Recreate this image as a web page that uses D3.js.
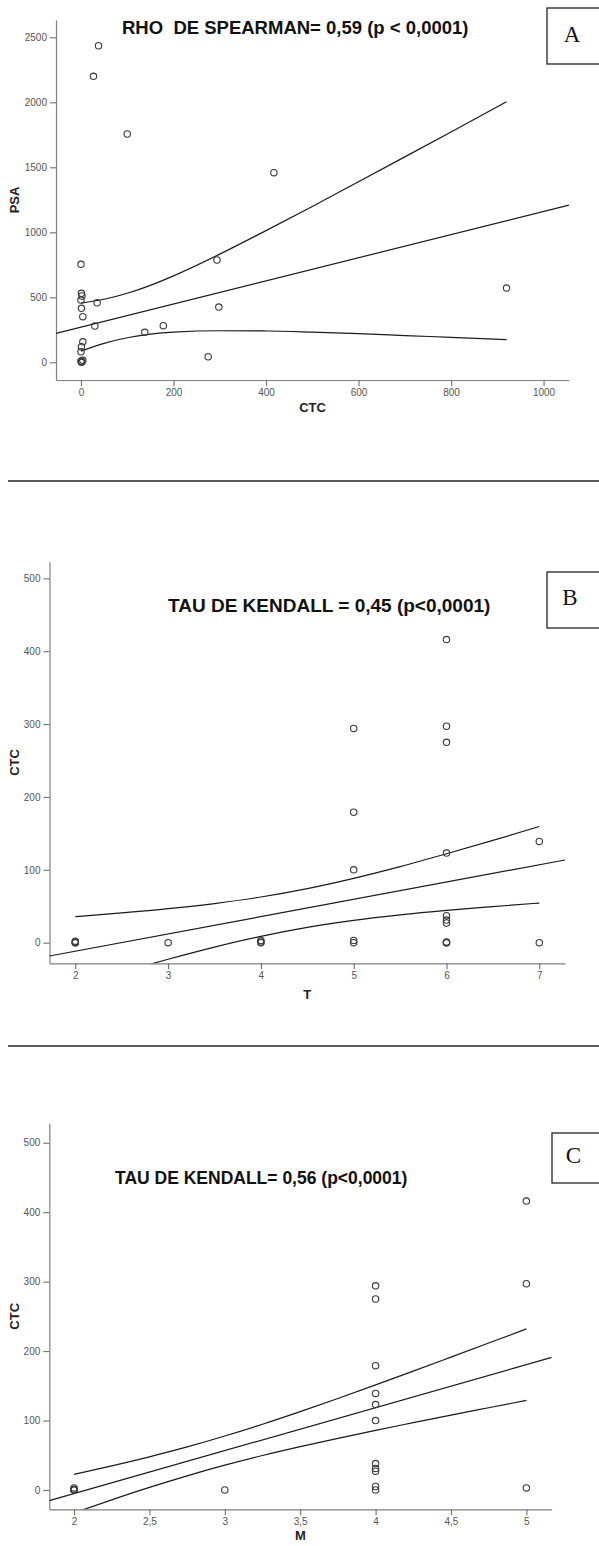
<!DOCTYPE html>
<html>
<head>
<meta charset="utf-8">
<script src="https://cdn.jsdelivr.net/npm/d3@7"></script>
<style>
  html, body { margin: 0; padding: 0; background: #fff; }
  svg { display: block; }
</style>
</head>
<body>
<svg id="chart" width="599" height="1546"></svg>
<script>
// ---------- Panel A: CTC vs PSA ----------
const ctcA = [38, 27, 100, 417, 0, 1, 2, 0, 1, 4, 35, 30, 138, 178, 294, 298, 275, 4, 1, 0, 0, 2, 4, 1, 920];
const psaA = [2435, 2200, 1756, 1459, 754, 531, 510, 479, 415, 351, 458, 279, 231, 282, 787, 425, 43, 158, 120, 81, 10, 5, 15, 0, 571];
const fitA_x = [-54, 1055];
const fitA_y = [223, 1209];
const bandA_x  = [0, 50, 100, 150, 200, 300, 400, 500, 600, 700, 800, 920];
const bandA_up = [456, 485, 531, 592, 665, 832, 1013, 1199, 1389, 1580, 1772, 2004];
const bandA_lo = [86, 146, 189, 217, 233, 243, 241, 232, 220, 206, 192, 174];
const ticksA_x = [0, 200, 400, 600, 800, 1000];
const ticksA_y = [0, 500, 1000, 1500, 2000, 2500];

// ---------- Panel B: T vs CTC ----------
const tB   = [2, 2, 2, 2, 3, 4, 4, 4, 5, 5, 5, 5, 5, 6, 6, 6, 6, 6, 6, 6, 6, 6, 6, 7, 7];
const ctcB = [0, 0, 1, 2, 0, 0, 1, 3, 294, 179, 100, 0, 3, 416, 297, 275, 123, 37, 31, 27, 0, 0, 1, 139, 0];
const fitB_x = [1.722, 7.277];
const fitB_y = [-18.3, 113.5];
const bandB_x  = [2, 2.5, 3, 3.5, 4, 4.5, 5, 5.5, 6, 6.5, 7];
const bandB_up = [35.7, 40.8, 46.6, 53.7, 62.7, 74.2, 88.3, 104.4, 122.0, 140.4, 159.4];
const bandB_lo = [-59.1, -40.5, -22.7, -6.0, 8.7, 21.0, 30.6, 38.2, 44.4, 49.6, 54.4];
const ticksB_x = [2, 3, 4, 5, 6, 7];
const ticksB_y = [0, 100, 200, 300, 400, 500];

// ---------- Panel C: M vs CTC ----------
const mC   = [2, 2, 2, 2, 3, 4, 4, 4, 4, 4, 4, 4, 4, 4, 4, 4, 5, 5, 5];
const ctcC = [0, 0, 1, 3, 0, 294, 275, 179, 139, 123, 100, 38, 31, 27, 5, 0, 416, 297, 3];
const fitC_x = [1.836, 5.168];
const fitC_y = [-15.35, 190.9];
const bandC_x  = [2, 2.25, 2.5, 2.75, 3, 3.25, 3.5, 3.75, 4, 4.25, 4.5, 4.75, 5];
const bandC_up = [22.6, 34.8, 47.8, 62.0, 77.7, 94.7, 112.8, 131.8, 151.3, 171.1, 191.3, 211.6, 232.0];
const bandC_lo = [-33.0, -14.2, 3.7, 20.4, 35.7, 49.7, 62.5, 74.4, 85.9, 96.9, 107.8, 118.4, 129.0];
const ticksC_x = [2, 2.5, 3, 3.5, 4, 4.5, 5];
const ticksC_y = [0, 100, 200, 300, 400, 500];

const titles = [
  "RHO\u00a0\u00a0DE SPEARMAN= 0,59 (p < 0,0001)",
  "TAU DE KENDALL = 0,45 (p<0,0001)",
  "TAU DE KENDALL= 0,56 (p<0,0001)"
];
const letters = ["A", "B", "C"];
const xLabels = ["CTC", "T", "M"];
const yLabels = ["PSA", "CTC", "CTC"];

const SANS = "'Liberation Sans', Arial, sans-serif";
const SERIF = "'Liberation Serif', 'Times New Roman', 'DejaVu Serif', serif";

const panels = [
  { id: "A", xs: ctcA, ys: psaA, fx: fitA_x, fy: fitA_y, bx: bandA_x, bu: bandA_up, bl: bandA_lo,
    tx: ticksA_x, ty: ticksA_y, xd: [-54, 1055], yd: [-136, 2633],
    left: 56, right: 569, top: 20, bottom: 380,
    title: titles[0], titleX: 122, titleY: 34.3, titleSize: 18.5,
    letter: letters[0], box: [547, 8, 60, 56], letterX: 572, letterY: 42,
    xLabel: xLabels[0], xLabelY: 412, yLabel: yLabels[0] },
  { id: "B", xs: tB, ys: ctcB, fx: fitB_x, fy: fitB_y, bx: bandB_x, bu: bandB_up, bl: bandB_lo,
    tx: ticksB_x, ty: ticksB_y, xd: [1.722, 7.277], yd: [-28.3, 522.8],
    left: 49.5, right: 565, top: 561.7, bottom: 963.3,
    title: titles[1], titleX: 168, titleY: 612.3, titleSize: 19,
    letter: letters[1], box: [547, 572, 60, 56], letterX: 570, letterY: 604.5,
    xLabel: xLabels[1], xLabelY: 999, yLabel: yLabels[1] },
  { id: "C", xs: mC, ys: ctcC, fx: fitC_x, fy: fitC_y, bx: bandC_x, bu: bandC_up, bl: bandC_lo,
    tx: ticksC_x, ty: ticksC_y, xd: [1.836, 5.168], yd: [-27.8, 528],
    left: 49.3, right: 551.7, top: 1123.3, bottom: 1509.3,
    title: titles[2], titleX: 115, titleY: 1184.3, titleSize: 17.5,
    letter: letters[2], box: [552, 1133, 60, 50], letterX: 573.5, letterY: 1163,
    xLabel: xLabels[2], xLabelY: 1540, yLabel: yLabels[2] }
];

const svg = d3.select("#chart");
svg.append("rect").attr("width", 599).attr("height", 1546).attr("fill", "#fff");

const fmt = d => String(d).replace(".", ",");

panels.forEach(p => {
  const x = d3.scaleLinear().domain(p.xd).range([p.left, p.right]);
  const y = d3.scaleLinear().domain(p.yd).range([p.bottom, p.top]);
  const g = svg.append("g");

  const clipId = "clip" + p.id;
  svg.append("clipPath").attr("id", clipId).append("rect")
    .attr("x", p.left).attr("y", p.top)
    .attr("width", p.right - p.left).attr("height", p.bottom - p.top);

  // axes
  const ax = g.append("g").attr("transform", `translate(0,${p.bottom})`)
    .call(d3.axisBottom(x).tickValues(p.tx).tickFormat(fmt).tickSize(6).tickSizeOuter(0));
  const ay = g.append("g").attr("transform", `translate(${p.left},0)`)
    .call(d3.axisLeft(y).tickValues(p.ty).tickFormat(fmt).tickSize(6).tickSizeOuter(0));
  [ax, ay].forEach(a => {
    a.select(".domain").attr("stroke", "#808080").attr("stroke-width", 1.2);
    a.selectAll(".tick line").attr("stroke", "#707070").attr("stroke-width", 1.1);
    a.selectAll(".tick text").attr("fill", "#555").attr("font-size", 10)
      .style("font-family", SANS);
  });

  // fit lines
  const plot = g.append("g").attr("clip-path", `url(#${clipId})`);
  const lineGen = d3.line().x(d => x(d[0])).y(d => y(d[1]));
  const curveGen = d3.line().x(d => x(d[0])).y(d => y(d[1])).curve(d3.curveMonotoneX);
  plot.append("path").datum(p.fx.map((v, i) => [v, p.fy[i]]))
    .attr("d", lineGen).attr("fill", "none").attr("stroke", "#1a1a1a").attr("stroke-width", 1.2);
  [p.bu, p.bl].forEach(band => {
    plot.append("path").datum(p.bx.map((v, i) => [v, band[i]]))
      .attr("d", curveGen).attr("fill", "none").attr("stroke", "#1a1a1a").attr("stroke-width", 1.2);
  });

  // points
  g.append("g").selectAll("circle").data(p.xs.map((v, i) => [v, p.ys[i]])).join("circle")
    .attr("cx", d => x(d[0])).attr("cy", d => y(d[1])).attr("r", 3.2)
    .attr("fill", "none").attr("stroke", "#3a3a3a").attr("stroke-width", 1.1);

  // title
  g.append("text").attr("x", p.titleX).attr("y", p.titleY)
    .style("font-family", SANS)
    .attr("font-size", p.titleSize).attr("font-weight", "bold").attr("fill", "#111")
    .text(p.title);

  // letter box
  g.append("rect").attr("x", p.box[0]).attr("y", p.box[1]).attr("width", p.box[2]).attr("height", p.box[3])
    .attr("fill", "#fff").attr("stroke", "#222").attr("stroke-width", 1.3);
  g.append("text").attr("x", p.letterX).attr("y", p.letterY).attr("text-anchor", "middle")
    .style("font-family", SERIF)
    .attr("font-size", 23).attr("fill", "#111").text(p.letter);

  // axis labels
  g.append("text").attr("x", (p.left + p.right) / 2).attr("y", p.xLabelY).attr("text-anchor", "middle")
    .style("font-family", SANS)
    .attr("font-size", 13).attr("font-weight", "bold").attr("fill", "#222").text(p.xLabel);
  g.append("text").attr("transform", `translate(18.5,${(p.top + p.bottom) / 2}) rotate(-90)`)
    .attr("text-anchor", "middle").style("font-family", SANS)
    .attr("font-size", 13).attr("font-weight", "bold").attr("fill", "#222").text(p.yLabel);
});

// separators
[481, 1046].forEach(yy => {
  svg.append("line").attr("x1", 8).attr("x2", 599).attr("y1", yy).attr("y2", yy)
    .attr("stroke", "#222").attr("stroke-width", 1.5);
});
</script>
</body>
</html>
